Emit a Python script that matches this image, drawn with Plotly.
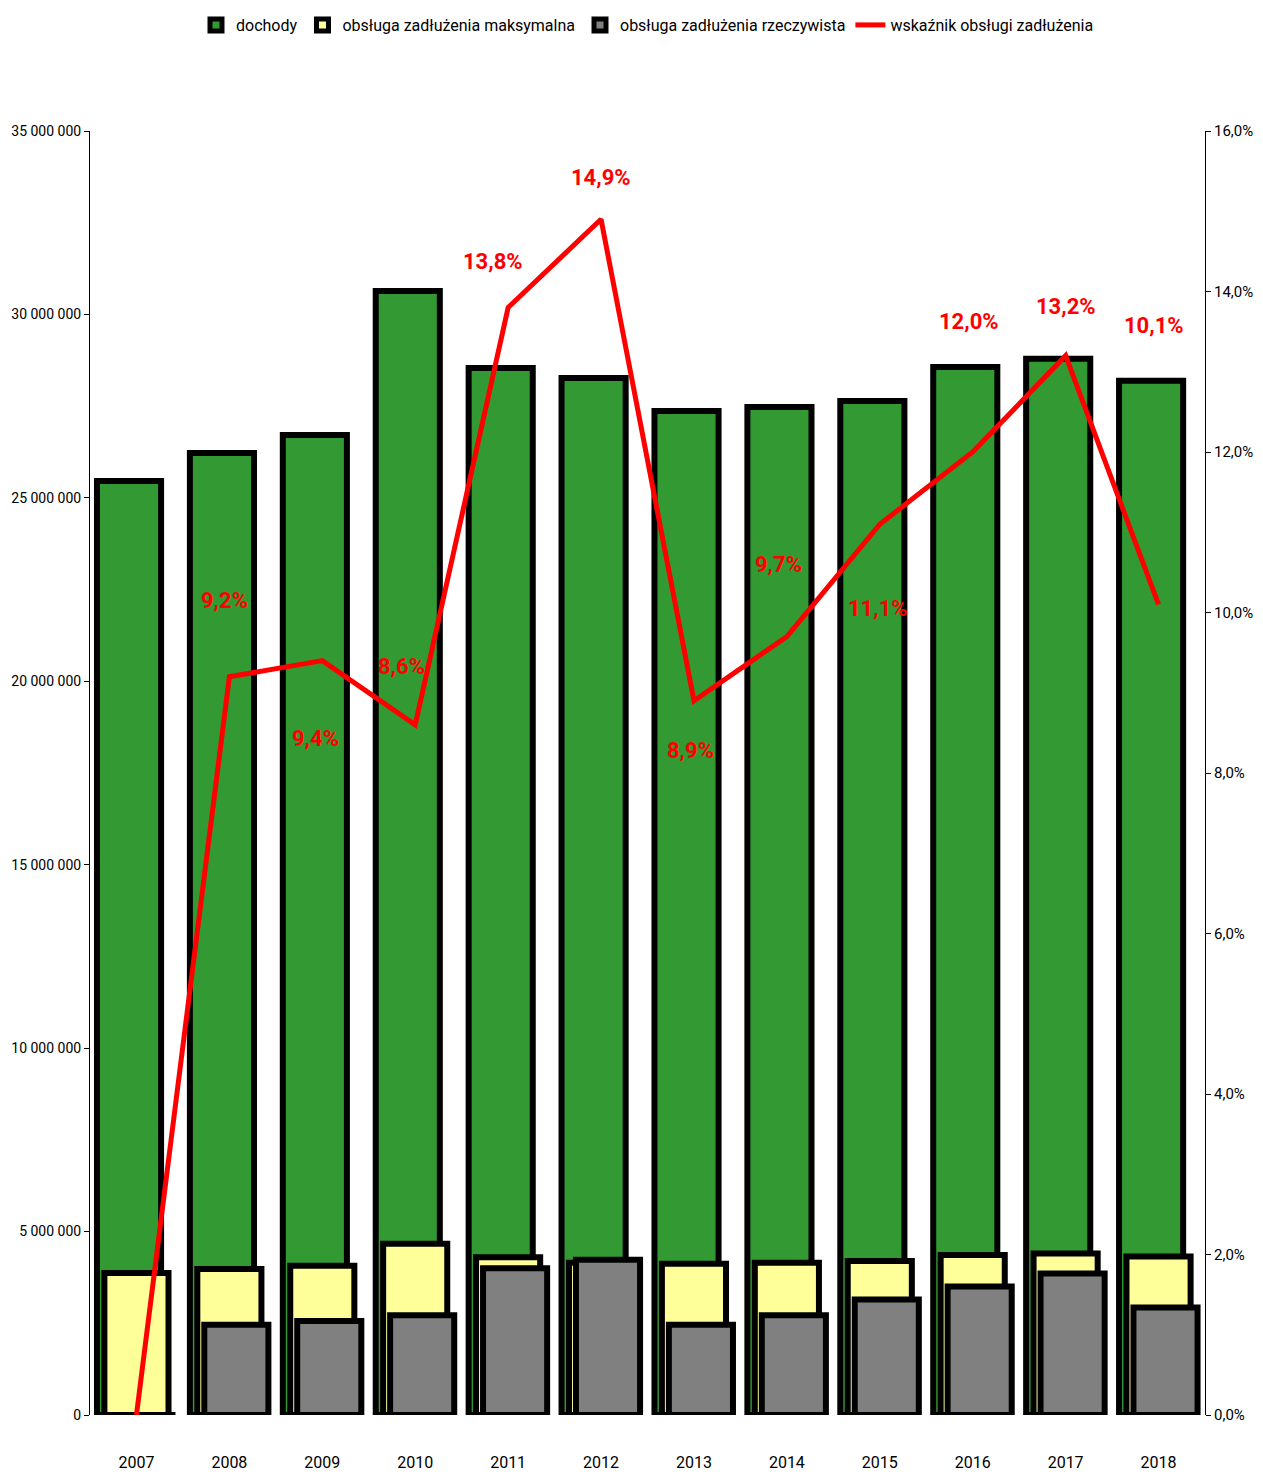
import plotly.graph_objects as go

years = ["2007", "2008", "2009", "2010", "2011", "2012", "2013", "2014", "2015", "2016", "2017", "2018"]
dochody = [25460000, 26220000, 26710000, 30640000, 28540000, 28270000, 27370000, 27480000, 27640000, 28570000, 28790000, 28190000]
obsluga_max = [3870000, 3980000, 4070000, 4670000, 4300000, 4150000, 4120000, 4150000, 4200000, 4360000, 4400000, 4320000]
obsluga_rz = [0, 2460000, 2560000, 2720000, 4000000, 4230000, 2460000, 2720000, 3150000, 3500000, 3860000, 2930000]
wskaznik = [0.0, 9.2, 9.4, 8.6, 13.8, 14.9, 8.9, 9.7, 11.1, 12.0, 13.2, 10.1]

# label placement (pixel shifts relative to each point); not data
label_dx = [0, -5, -7, -14, -15, 0, -3, -8, -2, -4, 0, -5]
label_dy = [0, 76, -78, 58, 46, 42, -50, 72, -84, 131, 49, 279]

FONT = "Roboto, Liberation Sans, sans-serif"
BAR_W = 0.69
W, H = 1255, 1471  # page body adds an 8px margin

fig = go.Figure()
fig.add_trace(go.Bar(
    x=years, y=dochody, name="dochody",
    marker=dict(color="#339933", line=dict(color="black", width=6)),
    width=BAR_W, offset=-0.425,
))
fig.add_trace(go.Bar(
    x=years, y=obsluga_max, name="obsługa zadłużenia maksymalna",
    marker=dict(color="#FFFF99", line=dict(color="black", width=6)),
    width=BAR_W, offset=-0.345,
))
fig.add_trace(go.Bar(
    x=years, y=obsluga_rz, name="obsługa zadłużenia rzeczywista",
    marker=dict(color="#808080", line=dict(color="black", width=6)),
    width=BAR_W, offset=-0.27,
))
fig.add_trace(go.Scatter(
    x=years, y=wskaznik, name="wskaźnik obsługi zadłużenia",
    mode="lines", line=dict(color="#FF0000", width=5), yaxis="y2",
    cliponaxis=False,
))

for i, v in enumerate(wskaznik):
    if v == 0:
        continue
    fig.add_annotation(
        x=i, y=v, yref="y2", xref="x",
        text=f"{v:.1f}".replace(".", ",") + "%",
        showarrow=False, xshift=label_dx[i], yshift=label_dy[i],
        font=dict(family=FONT, size=22, color="#FF0000", weight="bold"),
    )

fig.update_layout(
    width=W, height=H,
    margin=dict(l=82, r=58, t=123, b=64),
    barmode="overlay",
    separators=", ",
    plot_bgcolor="white", paper_bgcolor="white",
    font=dict(family=FONT, size=15, color="black"),
    showlegend=True,
    legend=dict(
        orientation="h", x=0.5, xanchor="center", yref="container",
        y=1 - 17 / H, yanchor="middle", font=dict(size=16),
        traceorder="normal",
    ),
    xaxis=dict(
        type="category", range=[-0.5, 11.5], showline=False, ticks="",
        showgrid=False, ticklabelstandoff=36, tickfont=dict(size=16),
        automargin=False,
    ),
    yaxis=dict(
        range=[0, 35000000], dtick=5000000, tickformat=",d",
        showline=True, linecolor="black", linewidth=1,
        ticks="outside", ticklen=5, tickcolor="black",
        showgrid=False, zeroline=False, tickfont=dict(size=14),
        automargin=False,
    ),
    yaxis2=dict(
        range=[0, 16], dtick=2, tickformat=".1f", ticksuffix="%",
        overlaying="y", side="right",
        showline=True, linecolor="black", linewidth=1,
        ticks="outside", ticklen=5, tickcolor="black",
        showgrid=False, zeroline=False, tickfont=dict(size=15),
        automargin=False,
    ),
)

fig.write_html("out.html")
